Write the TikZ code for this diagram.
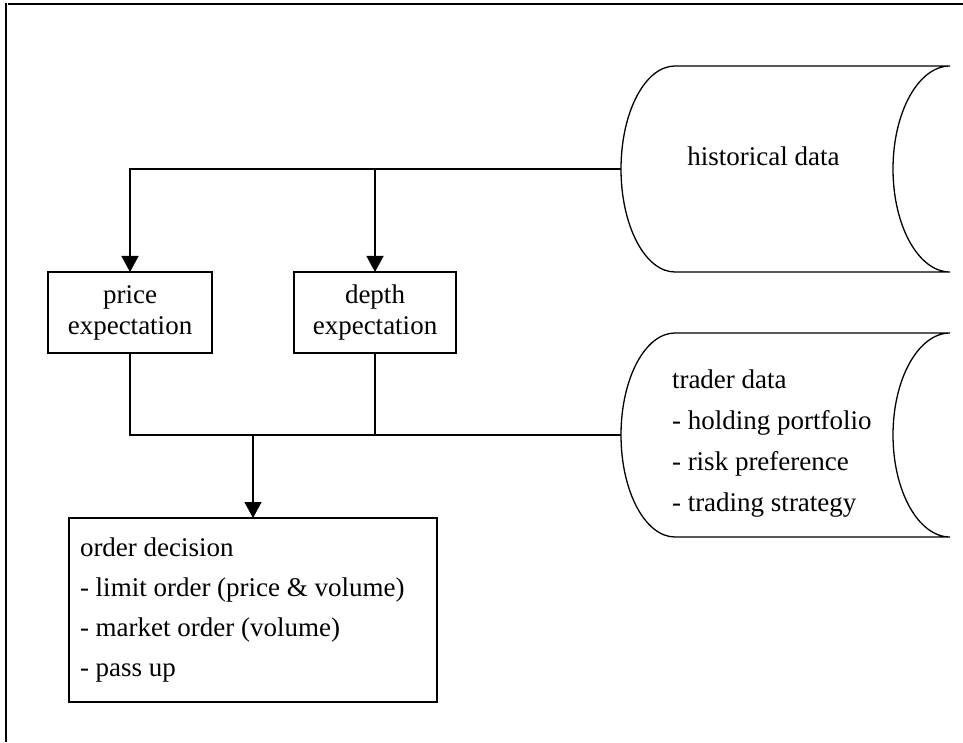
\documentclass[tikz,border=0pt]{standalone}
\usepackage{fontspec}
\setmainfont{Liberation Serif}
\usetikzlibrary{arrows.meta,calc}
\begin{document}
\begin{tikzpicture}[x=1pt,y=1pt,line width=1.3pt,
  box/.style={draw,line width=1.3pt,inner sep=0pt,outer sep=0pt,font=\fontsize{27}{31}\selectfont,align=center},
  store/.style={inner sep=0pt,outer sep=0pt,minimum width=329pt},
  txt/.style={inner sep=0pt,outer sep=0pt,font=\fontsize{27}{41}\selectfont,align=left},
  arr/.style={-{Triangle[length=16pt,width=17pt]}},
  frame/.style={line width=2pt}]
\useasboundingbox (0,0) rectangle (963,742);
% frame
\draw[frame] (6,0) -- (6,739);
\draw[frame] (8,738) -- (963,738);
% storage shapes
\node[store,minimum height=206pt] (hist) at (785.5,573) {};
\node[store,minimum height=204pt] (trader) at (785.5,307) {};
\draw ([xshift=54pt]hist.north west) arc[start angle=90,end angle=270,x radius=54pt,y radius=103pt]
  -- (hist.south east) arc[start angle=270,end angle=90,x radius=57pt,y radius=103pt] -- cycle;
\draw ([xshift=54pt]trader.north west) arc[start angle=90,end angle=270,x radius=54pt,y radius=102pt]
  -- (trader.south east) arc[start angle=270,end angle=90,x radius=57pt,y radius=102pt] -- cycle;
\node[txt,anchor=base] (histtext) at (763.5,576) {historical data};
\node[txt,anchor=west] (tradertext) at (672,298.5) {trader data\\- holding portfolio\\- risk preference\\- trading strategy};
% boxes
\node[box,minimum width=164pt,minimum height=81pt] (price) at (130,429.5) {price\\expectation};
\node[box,minimum width=162pt,minimum height=81pt] (depth) at (375,429.5) {depth\\expectation};
\node[box,minimum width=368pt,minimum height=184pt,align=flush left,text width=346pt,inner xsep=11pt,
  font=\fontsize{27}{40}\selectfont] (order) at (253,132)
  {order decision\\- limit order (price \& volume)\\- market order (volume)\\- pass up};
% connectors
\draw[arr] (hist.west) -| (price.north);
\draw[arr] (depth.north |- hist.west) -- (depth.north);
\draw (trader.west) -| (price.south);
\draw (depth.south) -- (depth.south |- trader.west);
\draw[arr] (order.north |- trader.west) -- (order.north);
\end{tikzpicture}
\end{document}
